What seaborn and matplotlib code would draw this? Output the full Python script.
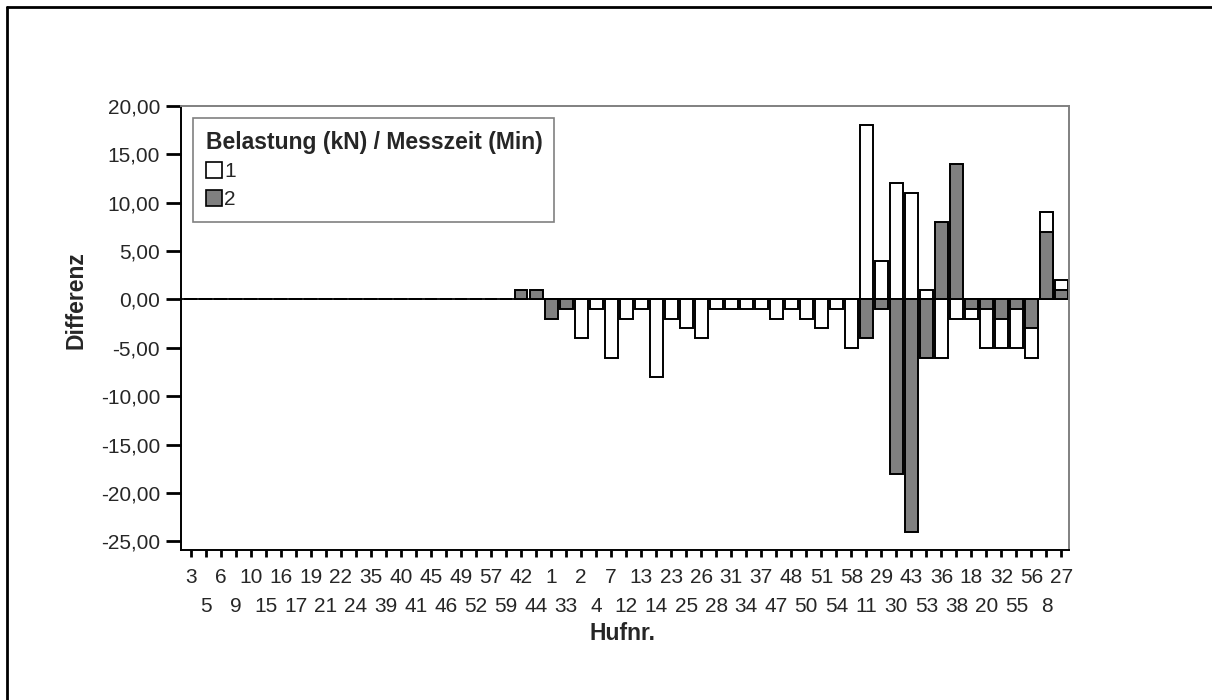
import matplotlib
matplotlib.use("Agg")
import matplotlib.pyplot as plt
import pandas as pd
import seaborn as sns
from matplotlib.patches import Patch
from matplotlib.lines import Line2D
from matplotlib.ticker import FuncFormatter

# Hoof numbers in plotted order
hufnr = ["3", "5", "6", "9", "10", "15", "16", "17", "19", "21", "22", "24",
         "35", "39", "40", "41", "45", "46", "49", "52", "57", "59", "42", "44",
         "1", "33", "2", "4", "7", "12", "13", "14", "23", "25", "26", "28",
         "31", "34", "37", "47", "48", "50", "51", "54", "58", "11", "29", "30",
         "43", "53", "36", "38", "18", "20", "32", "55", "56", "8", "27"]

# Difference per hoof, load/measuring-time group 1
diff_1 = [0, 0, 0, 0, 0, 0, 0, 0, 0, 0, 0, 0,
          0, 0, 0, 0, 0, 0, 0, 0, 0, 0, 0, 0,
          0, 0, -4, -1, -6, -2, -1, -8, -2, -3, -4, -1,
          -1, -1, -1, -2, -1, -2, -3, -1, -5, 18, 4, 12,
          11, 1, -6, -2, -2, -5, -5, -5, -6, 9, 2]

# Difference per hoof, load/measuring-time group 2
diff_2 = [0, 0, 0, 0, 0, 0, 0, 0, 0, 0, 0, 0,
          0, 0, 0, 0, 0, 0, 0, 0, 0, 0, 1, 1,
          -2, -1, 0, 0, 0, 0, 0, 0, 0, 0, 0, 0,
          0, 0, 0, 0, 0, 0, 0, 0, 0, -4, -1, -18,
          -24, -6, 8, 14, -1, -1, -2, -1, -3, 7, 1]

groups = ["1", "2"]
yticks = [20, 15, 10, 5, 0, -5, -10, -15, -20, -25]

df = pd.DataFrame({
    "Hufnr.": hufnr * 2,
    "Gruppe": [groups[0]] * len(hufnr) + [groups[1]] * len(hufnr),
    "Differenz": diff_1 + diff_2,
})

sns.set_style("white")
plt.rcParams["font.family"] = ["Liberation Sans", "DejaVu Sans"]

W, H = 1212, 700
fig = plt.figure(figsize=(W / 100, H / 100), dpi=100)
ax = fig.add_axes([181 / W, 1 - 550 / H, (1069 - 181) / W, (550 - 106) / H])

palette = {"1": "#ffffff", "2": "#808080"}
sns.barplot(data=df, x="Hufnr.", y="Differenz", hue="Gruppe", order=hufnr,
            hue_order=groups, dodge=False, palette=palette, errorbar=None,
            width=0.86, edgecolor="black", linewidth=1.4, saturation=1,
            legend=False, ax=ax)

ax.axhline(0, color="black", lw=1.3, zorder=0.5)

ax.set_xlim(-0.65, len(hufnr) - 0.5)
ax.set_ylim(-25.9, 20)
ax.set_yticks(yticks)
ax.yaxis.set_major_formatter(FuncFormatter(lambda v, p: f"{v:.2f}".replace(".", ",")))

# Two rows of category labels: even positions on top, odd positions below
pos = list(range(len(hufnr)))
ax.set_xticks(pos[0::2], labels=hufnr[0::2])
ax.set_xticks(pos[1::2], labels=hufnr[1::2], minor=True)

ax.tick_params(axis="y", direction="out", length=11, width=2, color="black",
               labelsize=15, pad=4, left=True)
ax.tick_params(axis="x", which="both", direction="out", length=5, width=2,
               color="black", labelsize=15, bottom=True)
ax.tick_params(axis="x", which="major", pad=8)
ax.tick_params(axis="x", which="minor", pad=29)

for side in ("left", "bottom"):
    ax.spines[side].set_color("black")
    ax.spines[side].set_linewidth(1.4)
for side in ("top", "right"):
    ax.spines[side].set_color("#808080")
    ax.spines[side].set_linewidth(1.4)
    ax.spines[side].set_visible(True)

ax.set_ylabel("Differenz", fontsize=16.5, fontweight="bold")
ax.yaxis.set_label_coords((87 - 181) / 888, (550 - 300) / 444)
ax.set_xlabel("Hufnr.", fontsize=16.5, fontweight="bold")
ax.xaxis.set_label_coords(0.497, (550 - 634) / 444)
ax.xaxis.label.set_va("center")

handles = [Patch(facecolor=palette[g], edgecolor="black", linewidth=1.2, label=g)
           for g in groups]
x0 = (193 - 181) / 888
y1 = (550 - 118) / 444
w = (554 - 193) / 888
h = (216 - 118) / 444
leg = ax.legend(handles=handles, title="Belastung (kN) / Messzeit (Min)",
                loc="upper left", bbox_to_anchor=(x0, y1 - h, w, h),
                mode="expand", alignment="left", fontsize=15,
                title_fontproperties={"weight": "bold", "size": 16.5},
                handlelength=0.8, handleheight=0.8, handletextpad=0.1,
                labelspacing=0.42, borderpad=0.6, borderaxespad=0,
                frameon=True, fancybox=False, edgecolor="#808080",
                framealpha=1)
leg.get_frame().set_linewidth(1.2)

# Outer frame of the chart
fig.add_artist(Line2D([7 / W, 7 / W], [0, 1 - 7 / H], transform=fig.transFigure,
                      color="black", lw=2))
fig.add_artist(Line2D([7 / W, 1], [1 - 7 / H, 1 - 7 / H], transform=fig.transFigure,
                      color="black", lw=2))

fig.savefig("out.png", dpi=100)
